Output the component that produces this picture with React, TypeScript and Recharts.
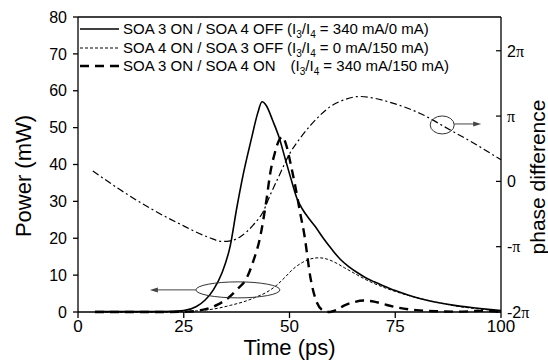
import React from 'react';
import { ComposedChart, Line, XAxis, YAxis, ReferenceLine, ReferenceDot, Legend, Label } from 'recharts';

const FONT = '"Liberation Sans", Arial, Helvetica, sans-serif';
const SERIF = '"Liberation Serif", "Times New Roman", serif';

// ---- data ----
const timeTicks = [0, 25, 50, 75, 100];
const powerTicks = [0, 10, 20, 30, 40, 50, 60, 70, 80];
const phaseTicks = [-2, -1, 0, 1, 2]; // in units of pi
const phaseTickLabels: Record<string, string> = { '-2': '-2', '-1': '-', '0': '0', '1': '', '2': '2' };

// SOA 3 ON / SOA 4 OFF  [time ps, power mW]
const soa3OnSoa4Off: [number, number][] = [
  [4, 0.1], [10, 0.1], [20, 0.1], [25, 0.4], [28, 1.5], [30, 3.2], [32, 6], [34, 10.5], [36, 18],
  [37.5, 28], [39, 37], [41, 47], [42.5, 54], [43.5, 57], [44.5, 56], [46, 52], [47.5, 47.5],
  [49, 41.5], [50.5, 35.5], [51.7, 31], [53, 28], [54.5, 25.5], [56, 23.3], [58, 20], [60, 17],
  [62, 14.3], [64, 12.3], [66, 10.7], [68, 9.3], [70, 8.2], [72, 7.2], [75, 5.8], [78, 4.6],
  [81, 3.6], [85, 2.6], [89, 1.8], [93, 1.2], [97, 0.7], [100, 0.4],
];

// SOA 4 ON / SOA 3 OFF
const soa4OnSoa3Off: [number, number][] = [
  [4, 0], [20, 0], [25, 0.1], [28, 0.3], [30, 0.5], [33, 1.0], [36, 1.8], [39.5, 2.9], [42, 4],
  [44.5, 5.3], [47, 7.3], [49, 9.5], [51, 11.8], [53, 13.4], [55, 14.4], [57, 14.7], [59, 14.3],
  [61, 13.3], [63, 12], [65, 10.7], [68, 8.8], [72, 6.8], [76, 5.2], [80, 3.9], [85, 2.6],
  [90, 1.5], [95, 0.8], [100, 0.3],
];

// SOA 3 ON / SOA 4 ON
const soa3OnSoa4On: [number, number][] = [
  [4, 0], [20, 0], [26, 0.1], [28, 0.3], [31, 1], [33, 2], [35.5, 3.8], [37.5, 6], [40, 9.5],
  [41.5, 14], [43, 20], [44.5, 30], [45.5, 38], [46.5, 43], [47.5, 46.5], [48.3, 47.5],
  [49.3, 45], [50.3, 40], [51.3, 34.5], [52.5, 27], [53.5, 21], [55, 9], [56.5, 2.5], [58, 0.4],
  [59.5, 0], [61, 0.5], [63, 1.8], [65, 2.6], [67.5, 3.1], [70, 2.8], [73, 1.9], [76, 1.1],
  [80, 0.5], [85, 0.2], [90, 0.1], [95, 0.3], [100, 0.1],
];

// phase difference [time ps, phase / pi]
const phaseDiff: [number, number][] = [
  [3.5, 0.16], [10, -0.13], [17, -0.41], [24, -0.65], [31, -0.86], [34, -0.92], [36, -0.91],
  [38.3, -0.85], [41.4, -0.67], [43.8, -0.46], [45.5, -0.2], [47.5, 0.08], [50, 0.42],
  [52.5, 0.66], [55, 0.86], [57.5, 1.03], [60, 1.16], [63, 1.25], [66.5, 1.3], [69.5, 1.28],
  [73.8, 1.21], [80.9, 1.04], [87.9, 0.79], [94.2, 0.56], [100, 0.33],
];

// annotation markers (data coordinates)
const powerMarker = { t: 37.8, v: 6 };
const phaseMarker = { t: 86.1, v: 0.864 };

const toRows = (arr: [number, number][]) => arr.map(([t, v]) => ({ t, v }));

const legendItems = [
  { name: 'SOA 3 ON / SOA 4 OFF', gap: 0, i3: '340', i4: '0', dash: undefined as string | undefined, w: 1.6 },
  { name: 'SOA 4 ON / SOA 3 OFF', gap: 0, i3: '0', i4: '150', dash: '3 2', w: 1 },
  { name: 'SOA 3 ON / SOA 4 ON', gap: 11, i3: '340', i4: '150', dash: '9 6', w: 2.4 },
];

const Sub = ({ children }: { children: React.ReactNode }) => (
  <span style={{ fontSize: 10, position: 'relative', top: 4, lineHeight: '10px' }}>{children}</span>
);

const LegendContent = () => (
  <div style={{ fontFamily: FONT, fontSize: 15, color: '#000', lineHeight: '18px' }}>
    {legendItems.map((it, i) => (
      <div key={i} style={{ display: 'flex', alignItems: 'center', height: 18.5, whiteSpace: 'pre' }}>
        <svg width={39} height={10} style={{ marginRight: 4, flex: 'none' }}>
          <line x1={0} x2={39} y1={5} y2={5} stroke="#000" strokeWidth={it.w} strokeDasharray={it.dash} />
        </svg>
        <span>{it.name}</span>
        <span style={{ marginLeft: 4 + it.gap }}>
          (I<Sub>3</Sub>/I<Sub>4</Sub> = {it.i3} mA/{it.i4} mA)
        </span>
      </div>
    ))}
  </div>
);

const PhaseTick = (props: any) => {
  const { x, y, payload } = props;
  const v = payload.value;
  const lbl = phaseTickLabels[String(v)];
  return (
    <g>
      <line x1={x - 5} x2={x} y1={y} y2={y} stroke="#000" strokeWidth={1.2} />
      <text x={x + 6} y={y} dy="0.36em" fontSize={16} fontFamily={FONT} fill="#000">
        {lbl}
        {v !== 0 && <tspan fontFamily={SERIF}>π</tspan>}
      </text>
    </g>
  );
};

const EllipseLeftArrow = (props: any) => {
  const { cx, cy } = props;
  return (
    <g>
      <ellipse cx={cx} cy={cy} rx={42} ry={8} fill="none" stroke="#333" strokeWidth={1} />
      <line x1={cx - 42} x2={cx - 84} y1={cy} y2={cy} stroke="#444" strokeWidth={1} />
      <path d={`M${cx - 88},${cy} L${cx - 80},${cy - 2.5} L${cx - 80},${cy + 2.5} Z`} fill="#444" />
    </g>
  );
};

const EllipseRightArrow = (props: any) => {
  const { cx, cy } = props;
  return (
    <g>
      <ellipse cx={cx} cy={cy} rx={12} ry={9} fill="none" stroke="#333" strokeWidth={1} />
      <line x1={cx + 12} x2={cx + 35} y1={cy - 1} y2={cy - 1} stroke="#444" strokeWidth={1} />
      <path d={`M${cx + 39},${cy - 1} L${cx + 31},${cy - 3.5} L${cx + 31},${cy + 1.5} Z`} fill="#444" />
    </g>
  );
};

export default function App() {
  return (
    <div style={{ position: 'fixed', left: 0, top: 0, width: 548, height: 360, background: '#fff' }}>
      <ComposedChart width={548} height={360} margin={{ top: 17, right: 7, bottom: 18, left: 28 }}>
        <XAxis
          type="number"
          dataKey="t"
          domain={[0, 100]}
          ticks={timeTicks}
          tickSize={6}
          tickMargin={2}
          height={30}
          stroke="#000"
          strokeWidth={1.3}
          tick={{ fontSize: 17, fontFamily: FONT, fill: '#000' }}
          allowDuplicatedCategory={false}
          label={
            <Label
              content={(p: any) => (
                <text x={p.viewBox.x + p.viewBox.width / 2} y={p.viewBox.y + 43} textAnchor="middle" fontSize={22} fontFamily={FONT} fill="#000">
                  Time (ps)
                </text>
              )}
            />
          }
        />
        <YAxis
          yAxisId="left"
          type="number"
          domain={[0, 80]}
          ticks={powerTicks}
          width={50}
          tickSize={5}
          tickMargin={6}
          stroke="#000"
          strokeWidth={1.3}
          tick={{ fontSize: 16, fontFamily: FONT, fill: '#000' }}
          label={
            <Label
              content={(p: any) => (
                <text transform={`translate(${p.viewBox.x - 5},${p.viewBox.y + 159}) rotate(-90)`} textAnchor="middle" dominantBaseline="central" fontSize={22} fontFamily={FONT} fill="#000">
                  Power (mW)
                </text>
              )}
            />
          }
        />
        <YAxis
          yAxisId="right"
          orientation="right"
          type="number"
          domain={[-2, 2.517]}
          ticks={phaseTicks}
          width={40}
          tickSize={0}
          tickMargin={0}
          tickLine={false}
          stroke="#000"
          strokeWidth={1.3}
          tick={<PhaseTick />}
          label={
            <Label
              content={(p: any) => (
                <text transform={`translate(${p.viewBox.x + 36},${p.viewBox.y + 160}) rotate(-90)`} textAnchor="middle" dominantBaseline="central" fontSize={21} fontFamily={FONT} fill="#000">
                  phase difference
                </text>
              )}
            />
          }
        />
        <ReferenceLine yAxisId="left" y={80} stroke="#000" strokeWidth={1.3} />
        <Legend
          layout="vertical"
          align="center"
          verticalAlign="middle"
          content={<LegendContent />}
          wrapperStyle={{ left: 80, top: 19.75, width: 'auto', height: 'auto' }}
        />
        <Line yAxisId="left" data={toRows(soa3OnSoa4Off)} dataKey="v" type="monotone" stroke="#000" strokeWidth={1.6} dot={false} isAnimationActive={false} name="SOA 3 ON / SOA 4 OFF" />
        <Line yAxisId="left" data={toRows(soa4OnSoa3Off)} dataKey="v" type="monotone" stroke="#000" strokeWidth={1} strokeDasharray="3 2" dot={false} isAnimationActive={false} name="SOA 4 ON / SOA 3 OFF" />
        <Line yAxisId="left" data={toRows(soa3OnSoa4On)} dataKey="v" type="monotone" stroke="#000" strokeWidth={2.4} strokeDasharray="9 6" dot={false} isAnimationActive={false} name="SOA 3 ON / SOA 4 ON" />
        <Line yAxisId="right" data={toRows(phaseDiff)} dataKey="v" type="monotone" stroke="#000" strokeWidth={1.2} strokeDasharray="7 3 2 3" dot={false} isAnimationActive={false} legendType="none" name="phase" />
        <ReferenceDot yAxisId="left" x={powerMarker.t} y={powerMarker.v} shape={<EllipseLeftArrow />} />
        <ReferenceDot yAxisId="right" x={phaseMarker.t} y={phaseMarker.v} shape={<EllipseRightArrow />} />
      </ComposedChart>
    </div>
  );
}
